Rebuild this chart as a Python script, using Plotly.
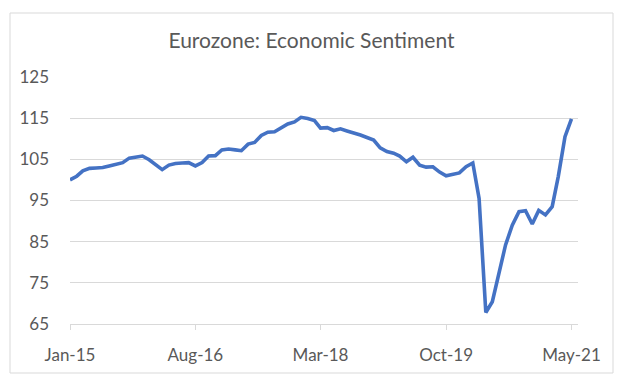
import pandas as pd
import plotly.graph_objects as go

start_month = "2015-01-01"
sentiment = [
    100.0, 100.9, 102.2, 102.8, 102.9, 103.0, 103.4, 103.8, 104.2, 105.3,
    105.6, 105.8, 104.9, 103.6, 102.5, 103.6, 104.0, 104.1, 104.2, 103.4,
    104.2, 105.8, 105.9, 107.3, 107.5, 107.3, 107.1, 108.7, 109.1, 110.8,
    111.6, 111.7, 112.6, 113.6, 114.1, 115.2, 114.9, 114.4, 112.6, 112.7,
    112.0, 112.4, 111.9, 111.5, 110.9, 110.3, 109.7, 107.8, 106.9, 106.5,
    105.8, 104.4, 105.5, 103.6, 103.1, 103.2, 101.9, 101.0, 101.3, 101.7,
    103.2, 104.1, 95.5, 67.8, 70.4, 77.8, 84.2, 89.0, 92.3, 92.5,
    89.3, 92.6, 91.5, 93.5, 100.8, 110.5, 114.8,
]
months = pd.date_range(start_month, periods=len(sentiment), freq="MS")
tick_dates = ["2015-01-01", "2016-08-01", "2018-03-01", "2019-10-01", "2021-05-01"]
tick_labels = ["Jan-15", "Aug-16", "Mar-18", "Oct-19", "May-21"]
y_ticks = [65, 75, 85, 95, 105, 115, 125]

FONT = "Lato"
GREY_TXT = "#595959"
GRID = "#D9D9D9"

fig = go.Figure()
fig.add_trace(go.Scatter(
    x=months, y=sentiment, mode="lines",
    line=dict(color="#4472C4", width=3.6),
    hoverinfo="x+y", showlegend=False,
))

W, H = 625, 384
ml, mr, mt, mb = 70, 47, 77, 60
pw, ph = W - ml - mr, H - mt - mb

def px_to_paper_x(px):
    return (px - ml) / pw

def px_to_paper_y(py):
    return (H - mb - py) / ph

fig.update_layout(
    width=W, height=H,
    margin=dict(l=ml, r=mr, t=mt, b=mb),
    paper_bgcolor="white", plot_bgcolor="white",
    font=dict(family=FONT, color=GREY_TXT, size=17),
    title=dict(
        text="Eurozone: Economic Sentiment",
        font=dict(family=FONT, size=21, color=GREY_TXT),
        x=311.5 / W, xanchor="center",
        y=1 - 41 / H, yanchor="middle",
    ),
    xaxis=dict(
        type="date",
        range=["2015-01-01", "2021-05-31"],
        tickvals=tick_dates, ticktext=tick_labels,
        showgrid=False, zeroline=False,
        showline=True, linecolor=GRID, linewidth=1,
        ticks="outside", ticklen=5, tickcolor=GRID,
        ticklabelstandoff=11,
        tickfont=dict(family=FONT, size=17, color=GREY_TXT),
    ),
    yaxis=dict(
        range=[65, 125],
        tickvals=y_ticks,
        showgrid=True, gridcolor=GRID, gridwidth=1,
        zeroline=False, showline=False, ticks="",
        ticklabelstandoff=20,
        tickfont=dict(family=FONT, size=17, color=GREY_TXT),
    ),
    shapes=[dict(
        type="rect", xref="paper", yref="paper",
        x0=px_to_paper_x(10), x1=px_to_paper_x(613),
        y0=px_to_paper_y(373), y1=px_to_paper_y(13),
        line=dict(color=GRID, width=1), fillcolor="rgba(0,0,0,0)",
        layer="below",
    )],
)

fig.write_html(
    "out.html",
    config={"displayModeBar": False},
    post_script="document.body.style.margin='0';document.body.style.overflow='hidden';",
)
